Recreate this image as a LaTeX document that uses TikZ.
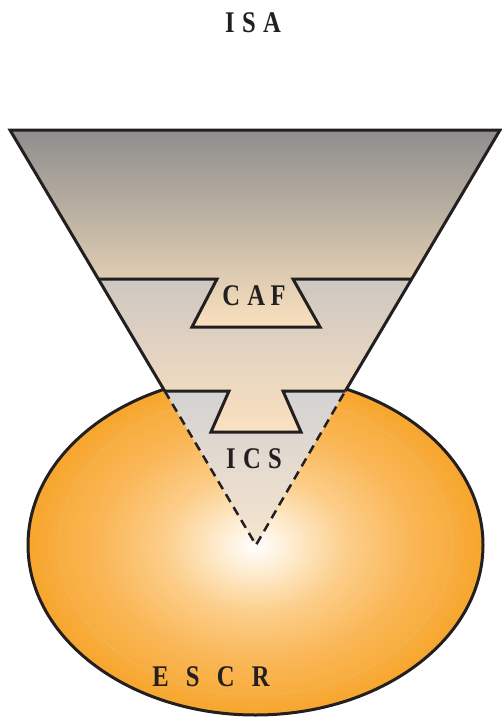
\documentclass[tikz,border=0pt]{standalone}
\usepackage{fontspec}
\setmainfont{Liberation Serif}
\usepackage{graphicx}
\definecolor{ink}{RGB}{35,31,32}
\definecolor{oA}{RGB}{254,236,208}
\definecolor{oB}{RGB}{252,206,138}
\definecolor{oC}{RGB}{250,183,88}
\definecolor{oD}{RGB}{247,166,45}
\definecolor{faint}{RGB}{228,190,130}
\definecolor{gTop}{RGB}{142,142,142}
\definecolor{gBot}{RGB}{250,225,190}
\definecolor{mTop}{RGB}{206,199,193}
\definecolor{mBot}{RGB}{250,225,192}
\definecolor{lTop}{RGB}{212,210,210}
\definecolor{lBot}{RGB}{246,228,205}
\pgfdeclareradialshading{escrshade}{\pgfpoint{0bp}{0bp}}{color(0bp)=(white); color(4bp)=(oA); color(10bp)=(oB); color(17bp)=(oC); color(25bp)=(oD); color(50bp)=(oD)}
\tikzset{
  outline/.style={draw=ink, line width=3pt, line join=miter},
  dashline/.style={draw=ink, line width=2.5pt, dash pattern=on 9pt off 6pt},
  label/.style={text=ink, font=\fontsize{30}{30}\selectfont\bfseries, inner sep=0pt, anchor=base}
}
\newcommand{\narrow}[1]{\scalebox{0.82}[1]{#1}}
\begin{document}
\begin{tikzpicture}[x=1pt,y=-1pt]
\useasboundingbox (0,0) rectangle (501,717);
% coordinates
\coordinate (TL) at (10,130);
\coordinate (TR) at (500,130);
\coordinate (AP) at (256,545);
\coordinate (L1) at (98.3,279);
\coordinate (R1) at (411.7,279);
\coordinate (N1a) at (217,279);
\coordinate (N1b) at (192,327);
\coordinate (N1c) at (320,327);
\coordinate (N1d) at (293,279);
\coordinate (L2) at (164.7,391);
\coordinate (R2) at (345.3,391);
\coordinate (N2a) at (229,391);
\coordinate (N2b) at (211,432);
\coordinate (N2c) at (301,432);
\coordinate (N2d) at (283,391);
\coordinate (EC) at (255.5,545);
% ellipse
\shade[shading=escrshade] (EC) ellipse [x radius=227.5, y radius=170];
\draw[faint, line width=0.7pt, dash pattern=on 1pt off 1pt] (EC) ellipse [x radius=197, y radius=150];
\draw[outline] (EC) ellipse [x radius=227.5, y radius=170];
% regions
\shade[top color=gTop, bottom color=gBot] (TL) -- (TR) -- (R1) -- (N1d) -- (N1c) -- (N1b) -- (N1a) -- (L1) -- cycle;
\shade[top color=mTop, bottom color=mBot] (L1) -- (N1a) -- (N1b) -- (N1c) -- (N1d) -- (R1) -- (R2) -- (N2d) -- (N2c) -- (N2b) -- (N2a) -- (L2) -- cycle;
\shade[top color=lTop, bottom color=lBot] (L2) -- (N2a) -- (N2b) -- (N2c) -- (N2d) -- (R2) -- (AP) -- cycle;
% outlines
\draw[outline] (L2) -- (TL) -- (TR) -- (R2);
\draw[outline] (L1) -- (N1a) -- (N1b) -- (N1c) -- (N1d) -- (R1);
\draw[outline] (L2) -- (N2a) -- (N2b) -- (N2c) -- (N2d) -- (R2);
\draw[dashline] (L2) -- (AP) -- (R2);
% labels
\node[label] (isa) at (253,33) {\narrow{I\hspace{0.3em}S\hspace{0.3em}A}};
\node[label] (caf) at (254,305) {\narrow{C\hspace{0.3em}A\hspace{0.22em}F}};
\node[label] (ics) at (254,468) {\narrow{I\hspace{0.3em}C\hspace{0.3em}S}};
\node[label] (escr) at (211,686) {\narrow{E\hspace{0.7em}S\hspace{0.7em}C\hspace{0.7em}R}};
\end{tikzpicture}
\end{document}
